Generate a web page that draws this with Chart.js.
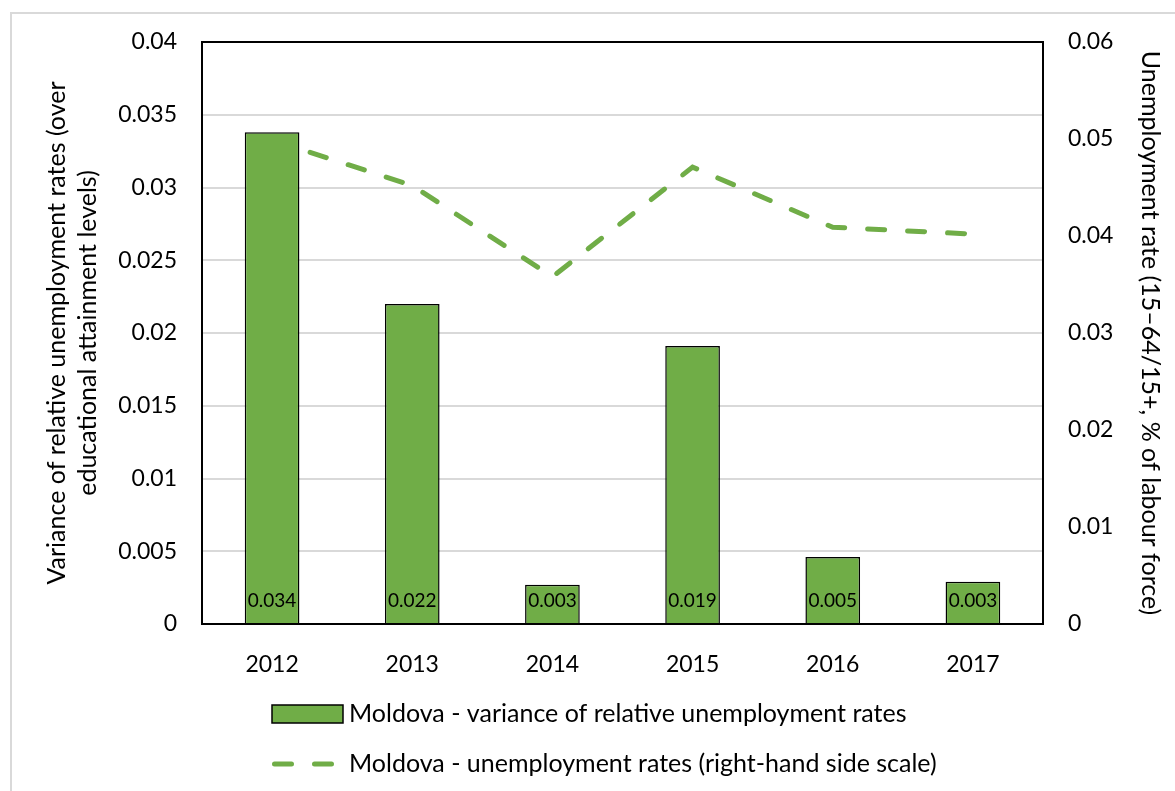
<!DOCTYPE html>
<html>
<head>
<meta charset="utf-8">
<script src="https://cdn.jsdelivr.net/npm/chart.js@4.4.0/dist/chart.umd.min.js"></script>
<style>
  html, body { margin: 0; padding: 0; background: #fff; overflow: hidden; }
  #frame {
    position: absolute; left: 10px; top: 12px; width: 1300px; height: 900px;
    border-left: 2px solid #d9d9d9; border-top: 2px solid #d9d9d9;
  }
  #wrap { position: absolute; left: 0; top: 0; width: 1175px; height: 791px; }
</style>
</head>
<body>
<div id="frame"></div>
<div id="wrap"><canvas id="chart" width="1175" height="791"></canvas></div>
<script>
const years = ['2012', '2013', '2014', '2015', '2016', '2017'];
const variance = [0.0338, 0.0220, 0.0027, 0.0191, 0.0046, 0.0029];
const unemployment = [0.0499, 0.0452, 0.0358, 0.0471, 0.0409, 0.0402];
const leftTicks = { min: 0, max: 0.04, step: 0.005 };
const rightTicks = { min: 0, max: 0.06, step: 0.01 };

const green = '#70ad47';
const fontFamily = 'Lato, "Open Sans", sans-serif';
const gridGray = '#d9d9d9';

const fmt = v => String(Number(v.toFixed(4)));

// value labels sitting at the foot of each bar
const barLabels = {
  id: 'barLabels',
  afterDatasetsDraw(chart) {
    const ctx = chart.ctx;
    const meta = chart.getDatasetMeta(0);
    ctx.save();
    ctx.font = '19px ' + fontFamily;
    ctx.fillStyle = '#000';
    ctx.textAlign = 'center';
    ctx.textBaseline = 'middle';
    meta.data.forEach((bar, i) => {
      ctx.fillText(variance[i].toFixed(3), bar.x, chart.chartArea.bottom - 23);
    });
    ctx.restore();
  }
};

// two-row legend under the axis, left aligned
const bottomLegend = {
  id: 'bottomLegend',
  afterDraw(chart) {
    const ctx = chart.ctx;
    const ds = chart.data.datasets;
    const x0 = 272, textX = 349, row1 = 714, row2 = 764;
    ctx.save();
    ctx.fillStyle = green;
    ctx.fillRect(x0, row1 - 9, 71, 18);
    ctx.strokeStyle = '#000';
    ctx.lineWidth = 1.5;
    ctx.strokeRect(x0, row1 - 9, 71, 18);

    ctx.strokeStyle = green;
    ctx.lineWidth = 5;
    ctx.lineCap = 'round';
    ctx.setLineDash([17, 23]);
    ctx.beginPath();
    ctx.moveTo(x0 + 2.5, row2);
    ctx.lineTo(x0 + 68, row2);
    ctx.stroke();
    ctx.setLineDash([]);

    ctx.font = '25px ' + fontFamily;
    ctx.fillStyle = '#000';
    ctx.textAlign = 'left';
    ctx.textBaseline = 'middle';
    ctx.fillText(ds[0].label, textX, row1);
    ctx.fillText(ds[1].label, textX, row2);
    ctx.restore();
  }
};

const edge = (ctx, top) => ctx.tick && (ctx.tick.value === 0 || ctx.tick.value === top);

new Chart(document.getElementById('chart').getContext('2d'), {
  type: 'bar',
  data: {
    labels: years,
    datasets: [{
      type: 'bar',
      label: 'Moldova - variance of relative unemployment rates',
      data: variance,
      yAxisID: 'y',
      backgroundColor: green,
      borderColor: '#000',
      borderWidth: 1.5,
      categoryPercentage: 1,
      barPercentage: 0.39
    }, {
      type: 'line',
      label: 'Moldova - unemployment rates (right-hand side scale)',
      data: unemployment,
      yAxisID: 'y1',
      borderColor: green,
      borderWidth: 5,
      borderDash: [17, 23],
      borderCapStyle: 'round',
      pointRadius: 0,
      tension: 0,
      fill: false
    }]
  },
  options: {
    responsive: false,
    animation: false,
    layout: { padding: { top: 42, left: 0, right: 0, bottom: 107 } },
    plugins: {
      legend: { display: false },
      tooltip: { enabled: false }
    },
    scales: {
      x: {
        grid: { display: false },
        border: { display: true, color: '#000', width: 2 },
        ticks: { color: '#000', font: { family: fontFamily, size: 23 }, padding: 19 },
        afterFit: s => { s.height = 60; }
      },
      y: {
        position: 'left',
        min: leftTicks.min,
        max: leftTicks.max,
        ticks: {
          stepSize: leftTicks.step,
          color: '#000',
          font: { family: fontFamily, size: 23 },
          padding: 25,
          callback: v => fmt(v)
        },
        grid: {
          drawTicks: false,
          color: c => edge(c, leftTicks.max) ? '#000' : gridGray,
          lineWidth: 2
        },
        border: { display: true, color: '#000', width: 2 },
        title: {
          display: true,
          text: ['Variance of relative unemployment rates (over', 'educational attainment levels)'],
          color: '#000',
          font: { family: fontFamily, size: 25, lineHeight: 1.25 },
          padding: { top: 41, bottom: 0 }
        },
        afterFit: s => { s.width = 202; }
      },
      y1: {
        position: 'right',
        min: rightTicks.min,
        max: rightTicks.max,
        ticks: {
          stepSize: rightTicks.step,
          color: '#000',
          font: { family: fontFamily, size: 23 },
          padding: 25,
          callback: v => fmt(v)
        },
        grid: { drawOnChartArea: false, drawTicks: false },
        border: { display: true, color: '#000', width: 2 },
        title: {
          display: true,
          text: 'Unemployment rate (15\u201364/15+, % of labour force)',
          color: '#000',
          font: { family: fontFamily, size: 25, lineHeight: 1.25 },
          padding: { top: 9, bottom: 0 }
        },
        afterFit: s => { s.width = 132; }
      }
    }
  },
  plugins: [barLabels, bottomLegend]
});
</script>
</body>
</html>
